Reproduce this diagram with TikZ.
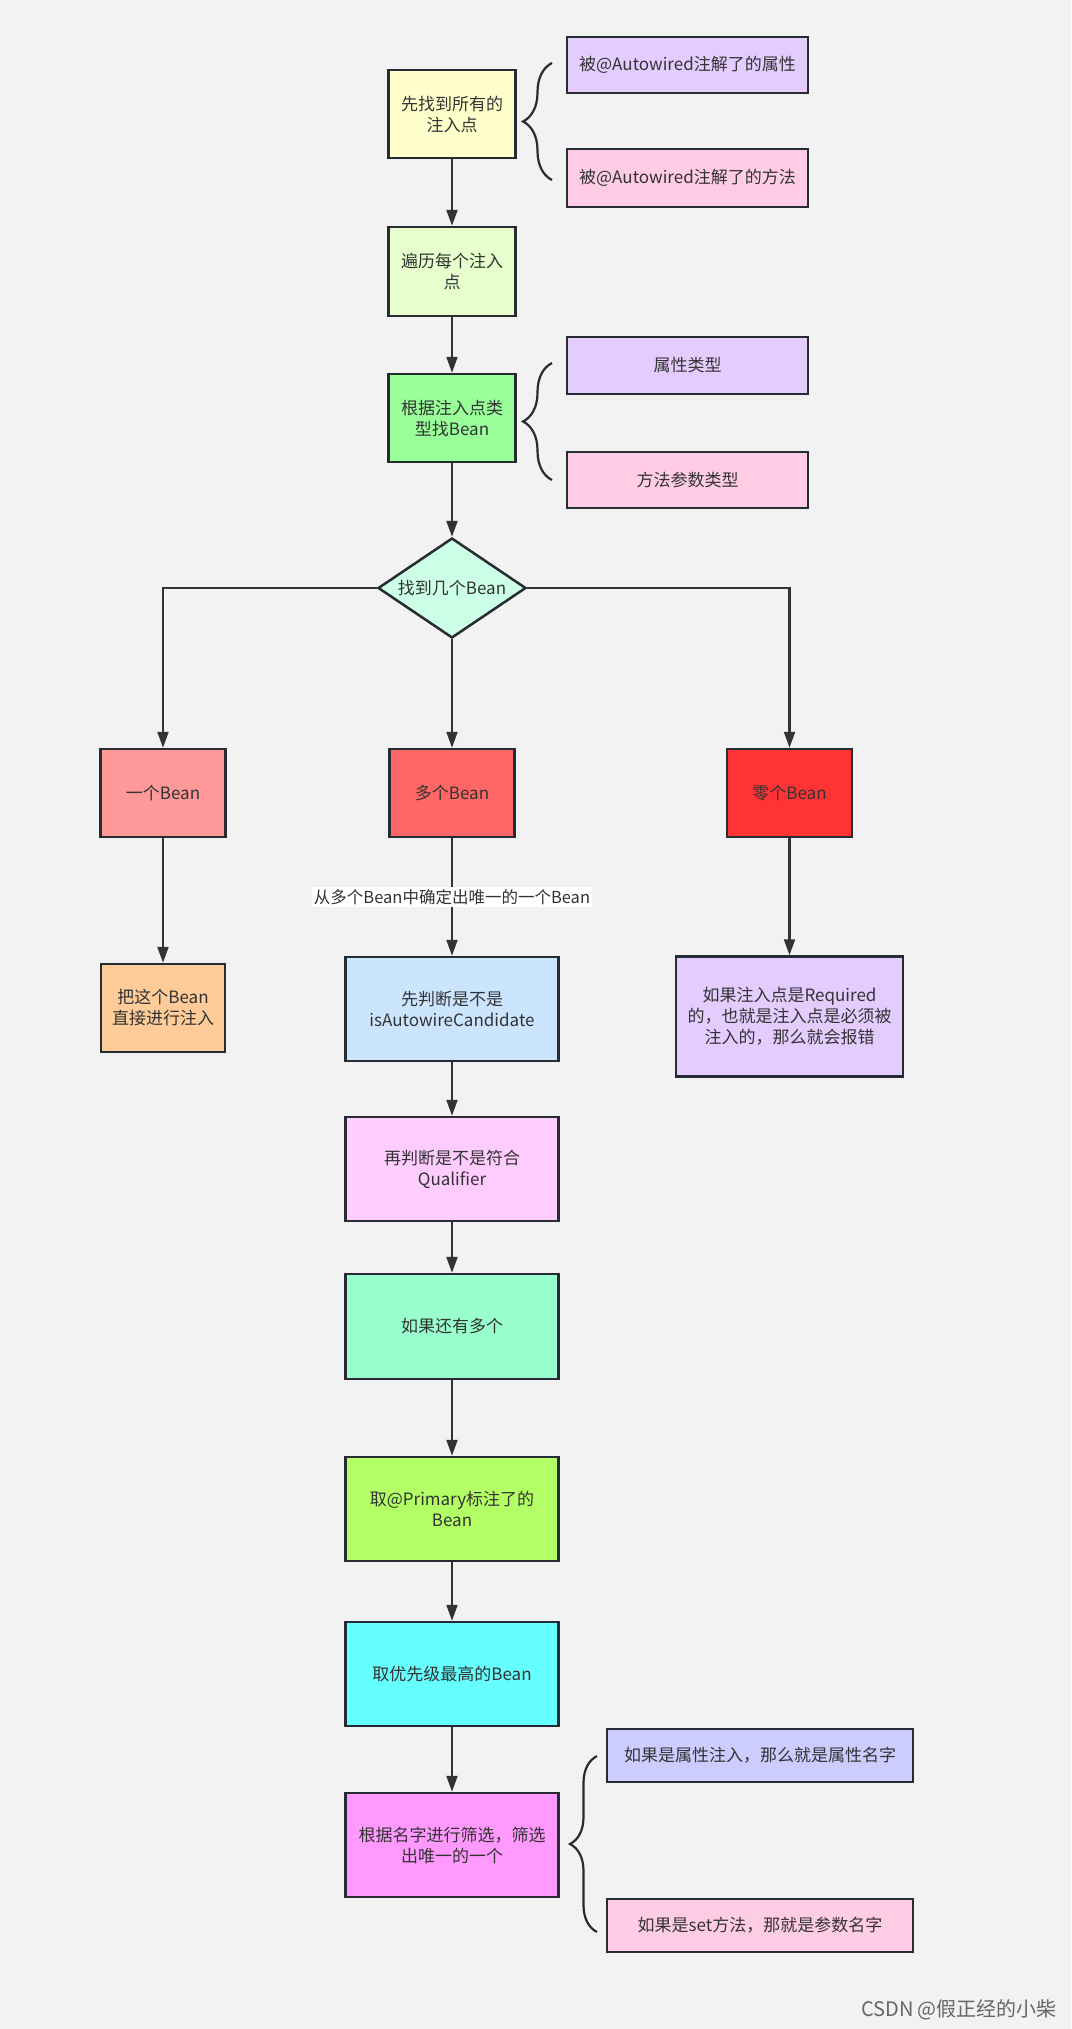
\documentclass[tikz,border=0pt]{standalone}
\usepackage{fontspec}
\setmainfont{Noto Sans CJK SC}
\usetikzlibrary{shapes.geometric,arrows.meta,decorations.pathreplacing}

\definecolor{bg}{HTML}{F2F2F2}
\definecolor{edge}{HTML}{272B33}
\definecolor{wire}{HTML}{333333}
\definecolor{txt}{HTML}{333333}
\definecolor{cyellow}{HTML}{FFFFCC}
\definecolor{clav}{HTML}{E5CCFF}
\definecolor{cpink}{HTML}{FFCCE6}
\definecolor{clime}{HTML}{E6FFCC}
\definecolor{cgreen}{HTML}{99FF99}
\definecolor{cmint}{HTML}{CCFFE6}
\definecolor{cred1}{HTML}{FF9999}
\definecolor{cred2}{HTML}{FF6666}
\definecolor{cred3}{HTML}{FF3333}
\definecolor{corange}{HTML}{FFCC99}
\definecolor{cblue}{HTML}{CCE5FF}
\definecolor{cmag}{HTML}{FFCCFF}
\definecolor{caqua}{HTML}{99FFCC}
\definecolor{capple}{HTML}{B3FF66}
\definecolor{ccyan}{HTML}{66FFFF}
\definecolor{cviolet}{HTML}{FF99FF}
\definecolor{cperi}{HTML}{CCCCFF}

\begin{document}
\begin{tikzpicture}[x=1pt, y=-1pt,
    blk/.style={draw=edge, line width=2.5pt, align=center, text=txt, inner sep=0pt,
      font=\fontsize{17pt}{21pt}\selectfont},
    arr/.style={draw=wire, line width=2.2pt, -{Triangle[length=16pt,width=11pt]}},
    brc/.style={draw=edge, line width=2.2pt, decorate, decoration={brace, amplitude=#1}}]

    % draw background
    \fill[bg] (0,0) rectangle (1071,2029);

    % draw main column
    \node[blk, fill=cyellow, minimum width=127pt, minimum height=88pt] (inject) at (452,114) {先找到所有的\\注入点};
    \node[blk, fill=clime, minimum width=127pt, minimum height=89pt] (loop) at (452,271.5) {遍历每个注入\\点};
    \node[blk, fill=cgreen, minimum width=127pt, minimum height=88pt] (bytype) at (452,418) {根据注入点类\\型找Bean};
    \node[blk, fill=cmint, shape=diamond, aspect=1.48, minimum width=148pt, minimum height=100pt] (count) at (452,588) {找到几个Bean};

    % draw notes on the right
    \node[blk, fill=clav, minimum width=241pt, minimum height=56pt] (field) at (687.5,65) {被@Autowired注解了的属性};
    \node[blk, fill=cpink, minimum width=241pt, minimum height=58pt] (method) at (687.5,178) {被@Autowired注解了的方法};
    \node[blk, fill=clav, minimum width=241pt, minimum height=57pt] (ftype) at (687.5,365.5) {属性类型};
    \node[blk, fill=cpink, minimum width=241pt, minimum height=56pt] (ptype) at (687.5,480) {方法参数类型};

    % draw the three cases
    \node[blk, fill=cred1, minimum width=125pt, minimum height=88pt] (one) at (163,793) {一个Bean};
    \node[blk, fill=cred2, minimum width=125pt, minimum height=88pt] (many) at (452,793) {多个Bean};
    \node[blk, fill=cred3, minimum width=125pt, minimum height=88pt] (zero) at (789.5,793) {零个Bean};
    \node[blk, fill=corange, minimum width=124pt, minimum height=88pt] (direct) at (163,1008) {把这个Bean\\直接进行注入};
    \node[blk, fill=clav, minimum width=227pt, minimum height=120pt] (required) at (789.5,1016.5) {如果注入点是Required\\的，也就是注入点是必须被\\注入的，那么就会报错};

    % draw steps for many beans
    \node[blk, fill=cblue, minimum width=213pt, minimum height=104pt] (cand) at (452,1009) {先判断是不是\\isAutowireCandidate};
    \node[blk, fill=cmag, minimum width=213pt, minimum height=104pt] (qual) at (452,1169) {再判断是不是符合\\Qualifier};
    \node[blk, fill=caqua, minimum width=213pt, minimum height=105pt] (more) at (452,1326.5) {如果还有多个};
    \node[blk, fill=capple, minimum width=213pt, minimum height=104pt] (primary) at (452,1509) {取@Primary标注了的\\Bean};
    \node[blk, fill=ccyan, minimum width=213pt, minimum height=104pt] (prio) at (452,1674) {取优先级最高的Bean};
    \node[blk, fill=cviolet, minimum width=213pt, minimum height=104pt] (byname) at (452,1845) {根据名字进行筛选，筛选\\出唯一的一个};
    \node[blk, fill=cperi, minimum width=306pt, minimum height=53pt] (fname) at (760,1755.5) {如果是属性注入，那么就是属性名字};
    \node[blk, fill=cpink, minimum width=306pt, minimum height=53pt] (sname) at (760,1925.5) {如果是set方法，那就是参数名字};

    % draw arrows
    \draw[arr] (inject) -- (loop);
    \draw[arr] (loop) -- (bytype);
    \draw[arr] (bytype) -- (count);
    \draw[arr] (count.west) -| (one.north);
    \draw[arr] (count.south) -- (many.north);
    \draw[arr] (count.east) -| (zero.north);
    \draw[arr] (one) -- (direct);
    \draw[arr] (zero) -- (required);
    \draw[arr] (many) -- node[fill=white, text=txt, inner sep=2pt, font=\fontsize{16.5pt}{20pt}\selectfont] {从多个Bean中确定出唯一的一个Bean} (cand);
    \draw[arr] (cand) -- (qual);
    \draw[arr] (qual) -- (more);
    \draw[arr] (more) -- (primary);
    \draw[arr] (primary) -- (prio);
    \draw[arr] (prio) -- (byname);

    % draw braces
    \coordinate (b1a) at (552,180); \coordinate (b1b) at (552,63);
    \coordinate (b2a) at (552,480); \coordinate (b2b) at (552,363);
    \coordinate (b3a) at (597,1932); \coordinate (b3b) at (597,1756);
    \draw[brc=29pt] (b1a) -- (b1b);
    \draw[brc=29pt] (b2a) -- (b2b);
    \draw[brc=27pt] (b3a) -- (b3b);

    % draw watermark
    \node[text=black!60, font=\fontsize{20pt}{24pt}\selectfont] (mark) at (959,2010) {CSDN @假正经的小柴};
\end{tikzpicture}
\end{document}
